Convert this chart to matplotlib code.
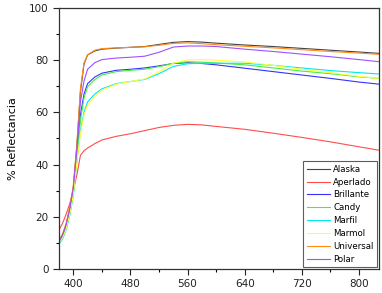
import matplotlib
matplotlib.use("Agg")
import matplotlib.pyplot as plt
from matplotlib.ticker import MultipleLocator

wl = [380, 385, 390, 395, 400, 405, 410, 415, 420, 430, 440, 460, 480, 500,
      520, 540, 560, 580, 600, 640, 680, 720, 760, 800, 828]

alaska    = [11, 13, 17, 23, 31, 47, 68, 78.5, 82, 83.5, 84.2, 84.6, 84.9, 85.2, 86, 86.8, 87.1, 86.9, 86.5, 85.8, 85.2, 84.5, 83.8, 83.1, 82.6]
aperlado  = [15, 17.5, 21, 25, 30, 36, 43.5, 45.3, 46.3, 48, 49.4, 50.8, 51.8, 53, 54.2, 55, 55.4, 55.2, 54.6, 53.5, 52, 50.4, 48.7, 46.8, 45.5]
brillante = [10, 12.5, 16, 22, 30, 44, 59, 67, 71, 73.5, 75, 76.1, 76.5, 77, 77.8, 78.7, 79, 78.7, 78.2, 76.9, 75.6, 74.3, 73, 71.6, 70.8]
candy     = [10, 12, 15.5, 21, 29, 43, 57, 65.5, 69.8, 72.5, 74.3, 75.6, 76.1, 76.5, 77.5, 78.8, 79.4, 79.2, 78.9, 78.2, 77, 75.8, 74.8, 73.6, 73]
marfil    = [9.5, 11.5, 15, 20.5, 28, 41, 53, 60, 64, 67, 69, 71, 71.8, 72.6, 74.8, 77.6, 78.6, 78.8, 78.8, 78.8, 78, 77, 76, 75.2, 74.7]
marmol    = [10, 12, 15.5, 21, 28.5, 41, 52, 59, 62.8, 66, 68.5, 70.8, 71.8, 72.8, 75.5, 78.8, 80.1, 80.2, 80, 79.3, 78, 76.5, 75.2, 73.8, 73]
universal = [11, 13.5, 17.5, 23.5, 32, 48, 69, 79, 82, 83.8, 84.4, 84.7, 84.9, 85.1, 85.7, 86.4, 86.6, 86.3, 85.9, 85.3, 84.7, 84, 83.3, 82.7, 82.2]
polar     = [10.5, 13, 17, 23, 31, 46, 64, 72, 76.5, 79, 80.2, 80.8, 81.1, 81.5, 83, 85, 85.4, 85.4, 85.2, 84.2, 83.3, 82.3, 81.3, 80.2, 79.4]

names = ["Alaska", "Aperlado", "Brillante", "Candy", "Marfil", "Marmol", "Universal", "Polar"]
series = [alaska, aperlado, brillante, candy, marfil, marmol, universal, polar]
colors = ["#444444", "#ff4d4d", "#3333ff", "#44ee44", "#00e8f0", "#ffff33", "#ff8c1a", "#a050ff"]

fig = plt.figure(figsize=(3.82, 2.93), dpi=100)
ax = fig.add_axes([0.1545, 0.082, 0.8375, 0.891])

for n, s, c in zip(names, series, colors):
    ax.plot(wl, s, color=c, lw=0.8, label=n)

ax.set_xlim(380, 828)
ax.set_ylim(0, 100)
ax.xaxis.set_major_locator(MultipleLocator(80))
ax.xaxis.set_minor_locator(MultipleLocator(40))
ax.yaxis.set_major_locator(MultipleLocator(20))
ax.yaxis.set_minor_locator(MultipleLocator(10))
ax.tick_params(which="major", direction="out", length=4, width=0.8, labelsize=7.5, colors="#222222")
ax.tick_params(which="minor", direction="out", length=2.5, width=0.8)
for sp in ax.spines.values():
    sp.set_linewidth(0.9)
    sp.set_color("#333333")
ax.set_ylabel("% Reflectancia", fontsize=8, labelpad=8)

leg = ax.legend(loc="lower right", fontsize=6.2, frameon=True, fancybox=False,
                edgecolor="#333333", handlelength=2.7, handletextpad=0.4,
                labelspacing=0.45, borderpad=0.4, borderaxespad=0.2)
leg.get_frame().set_linewidth(0.8)

fig.savefig("out.png", dpi=100)
